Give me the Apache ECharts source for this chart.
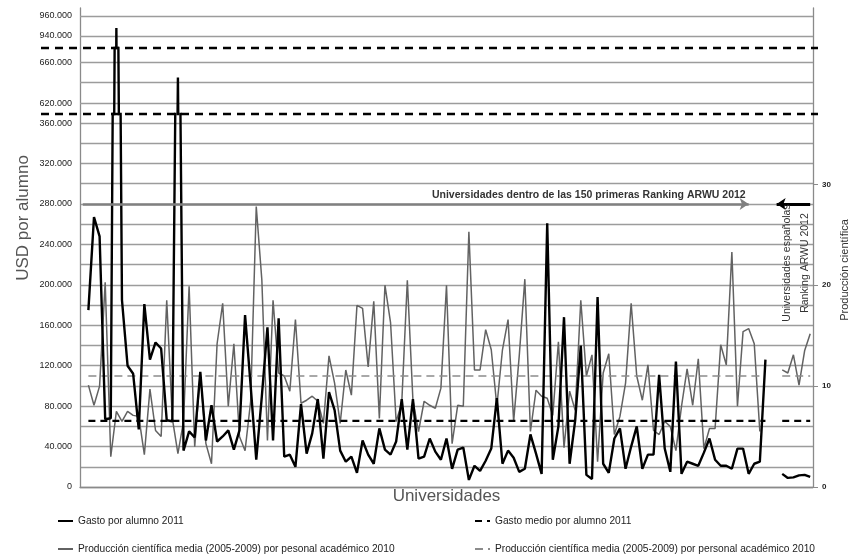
<!DOCTYPE html>
<html><head><meta charset="utf-8">
<script src="https://cdn.jsdelivr.net/npm/echarts@6.0.0/dist/echarts.min.js"></script>
<style>html,body{margin:0;padding:0;background:#fff}#c{width:849px;height:560px}</style>
</head><body><div id="c"></div>
<script>
// ---------- DATA ----------
// 131 category slots: 0 empty, 1..122 universities ARWU top-150, 123-124 gap, 125..130 Spanish universities
const universidades = Array.from({length: 131}, (_, i) => 'U' + i);

const gastoPorAlumno = [
  null,
  175000, 267000, 248000, 67000, 68000, 948000, 185000, 120000, 112000, 57000,
  181000, 126000, 143000, 137000, 66000, 65000, 645000, 36000, 55000, 49000,
  114000, 46000, 81000, 45000, 50000, 56000, 37000, 56000, 170000, 100000,
  27000, 90000, 158000, 46000, 167000, 30000, 32000, 20000, 82000, 33000,
  53000, 87000, 28000, 94000, 76000, 36000, 25000, 30000, 14000, 46000,
  32000, 23000, 58000, 37000, 32000, 45000, 87000, 37000, 87000, 28000,
  30000, 48000, 35000, 27000, 48000, 18000, 37000, 39000, 7000, 21000,
  16000, 26000, 38000, 88000, 23000, 36000, 29000, 15000, 18000, 52000,
  33000, 13000, 261000, 27000, 60000, 168000, 23000, 66000, 140000, 12000,
  8000, 188000, 23000, 14000, 48000, 58000, 18000, 40000, 60000, 18000,
  32000, 32000, 111000, 38000, 15000, 124000, 13000, 25000, 23000, 21000,
  34000, 48000, 27000, 21000, 21000, 18000, 38000, 38000, 13000, 23000,
  25000, 126000,
  null, null,
  13000, 9000, 9500, 11500, 12000, 10000
];

const produccionCientifica = [
  null,
  10.1, 8.1, 10.0, 20.3, 3.0, 7.5, 6.5, 7.5, 7.1, 7.0,
  3.2, 9.7, 5.6, 5.0, 18.5, 6.8, 3.3, 6.5, 19.9, 4.0,
  11.3, 4.3, 2.3, 14.2, 18.2, 8.0, 14.2, 5.0, 3.6, 8.5,
  27.8, 20.5, 4.6, 18.5, 11.3, 11.0, 9.5, 16.6, 8.3, 8.6,
  9.0, 8.5, 6.3, 13.0, 10.3, 6.3, 11.6, 9.1, 18.0, 17.7,
  11.9, 18.4, 6.8, 20.0, 16.3, 6.5, 8.3, 20.5, 8.6, 5.5,
  8.5, 8.1, 7.8, 9.8, 20.0, 4.3, 8.1, 8.0, 25.3, 11.6,
  11.6, 15.6, 13.6, 8.0, 13.6, 16.6, 6.5, 13.0, 20.6, 5.5,
  9.6, 9.0, 8.8, 7.1, 14.4, 3.9, 9.5, 7.6, 18.5, 11.0,
  13.1, 2.5, 11.3, 13.2, 5.2, 7.0, 10.3, 18.2, 11.0, 8.6,
  12.1, 5.6, 5.2, 6.5, 6.0, 3.6, 8.0, 11.7, 8.1, 12.7,
  3.8, 5.8, 5.8, 14.1, 12.1, 23.3, 8.0, 15.4, 15.7, 14.2,
  5.5, null,
  null, null,
  11.6, 11.3, 13.1, 10.1, 13.5, 15.2
];

const GASTO_MEDIO = 65353;
const PRODUCCION_MEDIA = 11.0;

// tick values / labels
const ticksInferior = [0, 40000, 80000, 120000, 160000, 200000, 240000, 280000, 320000, 360000];
const gridMedio = [620000, 640000, 660000];
const etiquetasMedio = [620000, 660000];
const gridSuperior = [940000, 960000];
const etiquetasSuperior = [940000, 960000];
const ticksDerecha = [0, 10, 20, 30];
const NIVEL_FLECHA = 280000;

const N_GASTO = 'Gasto por alumno 2011';
const N_GASTO_MEDIO = 'Gasto medio por alumno 2011';
const N_PROD = 'Producción científica media (2005-2009) por pesonal académico 2010';
const N_PROD_MEDIA = 'Producción científica media (2005-2009) por personal académico 2010';

const gastoMedioSerie = gastoPorAlumno.map(v => v == null ? null : GASTO_MEDIO);
const produccionMediaSerie = produccionCientifica.map(v => v == null ? null : PRODUCCION_MEDIA);

// ---------- STYLE ----------
const SANS = "'Liberation Sans','DejaVu Sans',sans-serif";
const GRID_COLOR = '#9c9c9c';
const AXIS_COLOR = '#8a8a8a';
const fmt = v => v === 0 ? '0' : String(Math.round(v / 1000)) + '.000';
const labelStyle = {fontSize: 9, color: '#222', fontFamily: SANS};

function gridMarkLine(values, labels) {
  return {
    silent: true, symbol: 'none', z: 1,
    lineStyle: {color: GRID_COLOR, width: 1.3, type: 'solid'},
    data: values.map(v => ({
      yAxis: v,
      label: Object.assign({show: labels.includes(v), position: 'start', distance: 8, formatter: fmt(v)}, labelStyle)
    }))
  };
}

const chart = echarts.init(document.getElementById('c'), null, {renderer: 'canvas'});
const left = 80, right = 36;

chart.setOption({
  animation: false,
  backgroundColor: '#fff',
  textStyle: {fontFamily: SANS},
  grid: [
    {left, right, top: 114, bottom: 73},
    {left, right, top: 48, height: 66},
    {left, right, top: 8, height: 40}
  ],
  xAxis: [
    {type: 'category', gridIndex: 0, data: universidades,
     axisLine: {show: true, lineStyle: {color: AXIS_COLOR, width: 1.3}},
     axisTick: {show: false}, axisLabel: {show: false}, splitLine: {show: false},
     name: 'Universidades', nameLocation: 'middle', nameGap: 1,
     nameTextStyle: {fontSize: 17, color: '#555', fontFamily: SANS, verticalAlign: 'top'}},
    {type: 'category', gridIndex: 1, data: universidades, show: false},
    {type: 'category', gridIndex: 2, data: universidades, show: false}
  ],
  yAxis: [
    {type: 'value', gridIndex: 0, min: 0, max: 369000, interval: 20000,
     axisLine: {show: true, lineStyle: {color: AXIS_COLOR, width: 1.3}},
     axisTick: {show: false},
     axisLabel: Object.assign({margin: 8, formatter: v => ticksInferior.includes(v) ? fmt(v) : ''}, labelStyle),
     splitLine: {show: true, showMaxLine: false, lineStyle: {color: GRID_COLOR, width: 1.3}}},
    {type: 'value', gridIndex: 0, position: 'right', min: 0, max: 36.97, interval: 10,
     axisLine: {show: true, lineStyle: {color: AXIS_COLOR, width: 1.3}},
     axisTick: {show: true, length: 5, lineStyle: {color: AXIS_COLOR}},
     axisLabel: {margin: 9, fontSize: 8, fontWeight: 'bold', color: '#222', fontFamily: SANS,
                 showMaxLabel: false, formatter: v => ticksDerecha.includes(v) ? String(v) : ''},
     splitLine: {show: false}},
    {type: 'value', gridIndex: 1, min: 609300, max: 673700,
     axisLine: {show: true, lineStyle: {color: AXIS_COLOR, width: 1.3}},
     axisTick: {show: false}, axisLabel: {show: false}, splitLine: {show: false}},
    {type: 'value', gridIndex: 1, position: 'right', min: 0, max: 1,
     axisLine: {show: true, lineStyle: {color: AXIS_COLOR, width: 1.3}},
     axisTick: {show: false}, axisLabel: {show: false}, splitLine: {show: false}},
    {type: 'value', gridIndex: 2, min: 928000, max: 968000,
     axisLine: {show: true, lineStyle: {color: AXIS_COLOR, width: 1.3}},
     axisTick: {show: false}, axisLabel: {show: false}, splitLine: {show: false}},
    {type: 'value', gridIndex: 2, position: 'right', min: 0, max: 1,
     axisLine: {show: true, lineStyle: {color: AXIS_COLOR, width: 1.3}},
     axisTick: {show: false}, axisLabel: {show: false}, splitLine: {show: false}}
  ],
  legend: [
    {left: 57, top: 516, data: [N_GASTO]},
    {left: 474, top: 516, data: [N_GASTO_MEDIO]},
    {left: 57, top: 544, data: [N_PROD]},
    {left: 474, top: 544, data: [N_PROD_MEDIA]}
  ].map(l => Object.assign({padding: 0, itemWidth: 15, itemHeight: 10, itemGap: 0, selectedMode: false,
    itemStyle: {opacity: 0},
    textStyle: {fontSize: 10.2, color: '#222', fontFamily: SANS}}, l)),
  series: [
    {name: N_PROD, type: 'line', xAxisIndex: 0, yAxisIndex: 1, data: produccionCientifica,
     symbol: 'none', z: 2, lineStyle: {color: '#626262', width: 1.5}, itemStyle: {color: '#626262'}},
    {name: N_PROD_MEDIA, type: 'line', xAxisIndex: 0, yAxisIndex: 1, data: produccionMediaSerie,
     symbol: 'none', z: 3, lineStyle: {color: '#8c8c8c', width: 1.4, type: [8, 5]}, itemStyle: {color: '#8c8c8c'}},
    {name: N_GASTO, type: 'line', xAxisIndex: 0, yAxisIndex: 0, data: gastoPorAlumno,
     symbol: 'none', z: 4, lineStyle: {color: '#000', width: 2.4}, itemStyle: {color: '#000'},
     markLine: {
       silent: true, z: 6, symbol: ['none', 'arrow'], symbolSize: 9,
       data: [
         [{coord: [0, NIVEL_FLECHA], lineStyle: {color: '#808080', width: 2.5, type: 'solid'},
           label: {show: true, position: 'insideEndTop', distance: 3,
                   formatter: 'Universidades dentro de las 150 primeras Ranking ARWU 2012',
                   fontSize: 10.5, fontWeight: 'bold', color: '#333', fontFamily: SANS}},
          {coord: [119, NIVEL_FLECHA]}],
         [{coord: [130, NIVEL_FLECHA], lineStyle: {color: '#000', width: 3, type: 'solid'}, label: {show: false}},
          {coord: [124, NIVEL_FLECHA]}]
       ]
     }},
    {name: N_GASTO_MEDIO, type: 'line', xAxisIndex: 0, yAxisIndex: 0, data: gastoMedioSerie,
     symbol: 'none', z: 5, lineStyle: {color: '#000', width: 2.2, type: [7, 5]}, itemStyle: {color: '#000'},
     markLine: {
       silent: true, symbol: 'none', z: 1,
       lineStyle: {opacity: 0},
       data: [{yAxis: GASTO_MEDIO, label: Object.assign({show: true, position: 'start', distance: 8,
               formatter: '65.353'}, labelStyle, {fontWeight: 'bold'})}]
     }},
    {name: N_GASTO, type: 'line', xAxisIndex: 1, yAxisIndex: 2, data: gastoPorAlumno,
     symbol: 'none', z: 4, lineStyle: {color: '#000', width: 2.4}, itemStyle: {color: '#000'},
     markLine: gridMarkLine(gridMedio, etiquetasMedio)},
    {name: N_GASTO, type: 'line', xAxisIndex: 2, yAxisIndex: 4, data: gastoPorAlumno,
     symbol: 'none', z: 4, lineStyle: {color: '#000', width: 2.4}, itemStyle: {color: '#000'},
     markLine: gridMarkLine(gridSuperior, etiquetasSuperior)}
  ],
  graphic: [
    {type: 'line', z: 100, shape: {x1: 41, y1: 48, x2: 818, y2: 48},
     style: {stroke: '#000', lineWidth: 2.5, lineDash: [8, 6]}},
    {type: 'line', z: 100, shape: {x1: 41, y1: 114, x2: 818, y2: 114},
     style: {stroke: '#000', lineWidth: 2.5, lineDash: [8, 6]}},
    {type: 'text', x: 23, y: 218, rotation: Math.PI / 2,
     style: {text: 'USD por alumno', fontSize: 17, fontFamily: SANS, fill: '#555', align: 'center', verticalAlign: 'middle'}},
    {type: 'text', x: 845, y: 270, rotation: Math.PI / 2,
     style: {text: 'Producción científica', fontSize: 11, fontFamily: SANS, fill: '#333', align: 'center', verticalAlign: 'middle'}},
    {type: 'text', x: 796, y: 263, rotation: Math.PI / 2, z: 50,
     style: {text: 'Universidades españolas\nRanking ARWU 2012', fontSize: 10.5, lineHeight: 18, fontFamily: SANS,
             fill: '#333', align: 'center', verticalAlign: 'middle'}}
  ]
});
</script></body></html>
